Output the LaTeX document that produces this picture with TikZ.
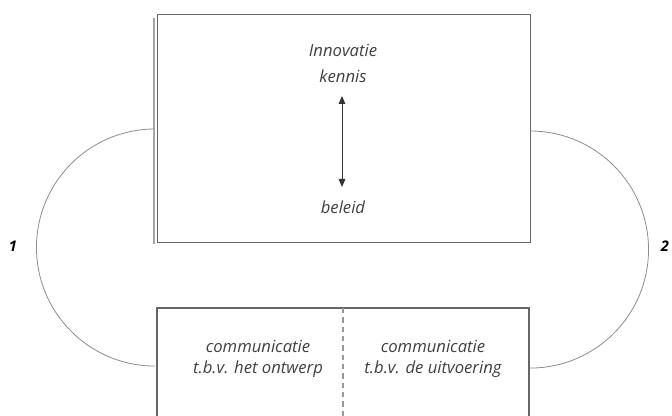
\documentclass[tikz,border=0pt]{standalone}
\usepackage{fontspec}
\setmainfont{Open Sans}
\usetikzlibrary{arrows.meta}
\begin{document}
\begin{tikzpicture}[x=0.75pt,y=-0.75pt,
  frame/.style={draw=black!60,line width=1.1pt},
  loop/.style={draw=black!45,line width=0.6pt},
  lbl/.style={font=\fontsize{12.5}{15.5}\selectfont\itshape,text=black!75,align=center,inner sep=0pt},
  num/.style={font=\fontsize{11}{13}\selectfont\bfseries\itshape,inner sep=0pt}]
\useasboundingbox (0,0) rectangle (672,416);
% upper block
\node[frame,inner sep=0pt,anchor=north west,
      minimum width=279.75pt,minimum height=171pt] (top) at (157,14) {};
\draw[black!35,line width=0.8pt] (154,18) -- (154,244);
% lower block, open at the bottom
\coordinate (bl) at (157,420);
\coordinate (br) at (529,420);
\draw[frame] (bl) -- (157,308) coordinate (tl) -- (529,308) coordinate (tr) -- (br);
\draw[black!40,line width=0.8pt,dash pattern=on 4pt off 3pt] (343,308) -- (343,420);
% texts
\node[lbl] (inno) at (343,50) {Innovatie};
\node[lbl] (ken) at (343,76) {kennis};
\node[lbl] (bel) at (343,207) {beleid};
\coordinate (up) at (342,96);
\coordinate (dn) at (342,187);
\draw[black!80,line width=0.7pt,{Triangle[length=6pt,width=5pt]}-{Triangle[length=6pt,width=5pt]}]
  (up) -- (dn);
\node[lbl] (c1) at (258,359) {communicatie\\t.b.v. het ontwerp};
\node[lbl] (c2) at (433,359) {communicatie\\t.b.v. de uitvoering};
% loops
\coordinate (la) at (155,129);
\coordinate (lb) at (155,366);
\coordinate (ra) at (530,131);
\coordinate (rb) at (530,368);
\draw[loop] (la) arc[start angle=90,end angle=270,radius=88.9pt];
\draw[loop] (ra) arc[start angle=90,end angle=-90,radius=88.9pt];
\node[num] (one) at (13,246) {1};
\node[num] (two) at (665,246) {2};
\end{tikzpicture}
\end{document}
